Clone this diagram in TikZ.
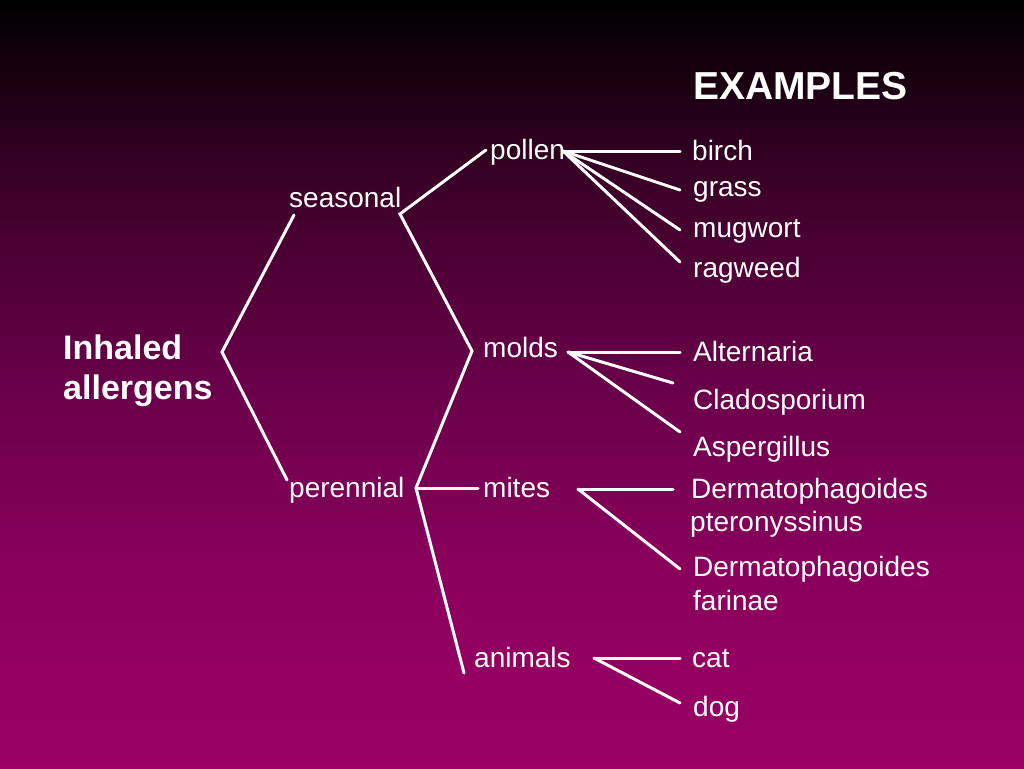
\documentclass[tikz,border=0pt]{standalone}
\usepackage{fontspec}
\setmainfont{Liberation Sans}
\definecolor{bgA}{HTML}{000000}
\definecolor{bgB}{HTML}{3D0029}
\definecolor{bgC}{HTML}{6A004A}
\definecolor{bgD}{HTML}{8A005C}
\definecolor{bgE}{HTML}{9C0066}
\begin{document}
\begin{tikzpicture}[x=1pt,y=-1pt,
  lbl/.style={anchor=base west,inner sep=0pt,text=white,font=\fontsize{28}{33}\selectfont},
  blbl/.style={anchor=base west,inner sep=0pt,text=white,font=\fontsize{34}{41}\selectfont\bfseries},
  conn/.style={draw=white,line width=3pt,line cap=round,line join=miter}]
\useasboundingbox (0,0) rectangle (1024,768);
\shade[top color=bgA,bottom color=bgB] (0,0) rectangle (1024,191);
\shade[top color=bgB,bottom color=bgC] (0,190) rectangle (1024,391);
\shade[top color=bgC,bottom color=bgD] (0,390) rectangle (1024,571);
\shade[top color=bgD,bottom color=bgE] (0,570) rectangle (1024,768);

% texts
\node[anchor=base west,inner sep=0pt,text=white,font=\fontsize{39}{46}\selectfont\bfseries] (ex) at (693,99) {EXAMPLES};
\node[blbl] (inh) at (63,359) {Inhaled};
\node[blbl] (all) at (63,399) {allergens};
\node[lbl] (seas) at (289,207) {seasonal};
\node[lbl] (per) at (289,497) {perennial};
\node[lbl] (pol) at (490,159) {pollen};
\node[lbl] (mol) at (483,357) {molds};
\node[lbl] (mit) at (483,497) {mites};
\node[lbl] (ani) at (474,667) {animals};
\node[lbl] (bir) at (692,160) {birch};
\node[lbl] (gra) at (693,196) {grass};
\node[lbl] (mug) at (693,237) {mugwort};
\node[lbl] (rag) at (693,277) {ragweed};
\node[lbl] (alt) at (693,361) {Alternaria};
\node[lbl] (cla) at (693,409) {Cladosporium};
\node[lbl] (asp) at (693,456) {Aspergillus};
\node[lbl] (dp1) at (691,498) {Dermatophagoides};
\node[lbl] (dp2) at (690,531) {pteronyssinus};
\node[lbl] (df1) at (693,576) {Dermatophagoides};
\node[lbl] (df2) at (693,610) {farinae};
\node[lbl] (cat) at (692,667) {cat};
\node[lbl] (dog) at (693,716) {dog};

% junction coordinates
\coordinate (inhV) at (222,352);
\coordinate (seasL) at (294,215);
\coordinate (perL) at (287,480);
\coordinate (seasR) at (400,214);
\coordinate (polL) at (486,150);
\coordinate (molV) at (472,351);
\coordinate (perR) at (416,488);
\coordinate (mitL) at (478,488);
\coordinate (aniL) at (464,673);
\coordinate (polR) at (563,151);
\coordinate (birE) at (680,151);
\coordinate (graE) at (680,190);
\coordinate (mugE) at (680,230);
\coordinate (ragE) at (680,262);
\coordinate (molR) at (568,352);
\coordinate (altE) at (680,352);
\coordinate (claE) at (673,383);
\coordinate (aspE) at (680,432);
\coordinate (mitR) at (578,489);
\coordinate (dp1E) at (673,489);
\coordinate (df1E) at (680,569);
\coordinate (aniR) at (594,658);
\coordinate (catE) at (680,658);
\coordinate (dogE) at (680,703);

% connectors
\draw[conn] (seasL) -- (inhV) -- (perL);
\draw[conn] (polL) -- (seasR) -- (molV) -- (perR) -- (aniL);
\draw[conn] (perR) -- (mitL);
\draw[conn] (polR) -- (birE);
\draw[conn] (polR) -- (graE);
\draw[conn] (polR) -- (mugE);
\draw[conn] (polR) -- (ragE);
\draw[conn] (molR) -- (altE);
\draw[conn] (molR) -- (claE);
\draw[conn] (molR) -- (aspE);
\draw[conn] (mitR) -- (dp1E);
\draw[conn] (mitR) -- (df1E);
\draw[conn] (aniR) -- (catE);
\draw[conn] (aniR) -- (dogE);
\end{tikzpicture}
\end{document}
